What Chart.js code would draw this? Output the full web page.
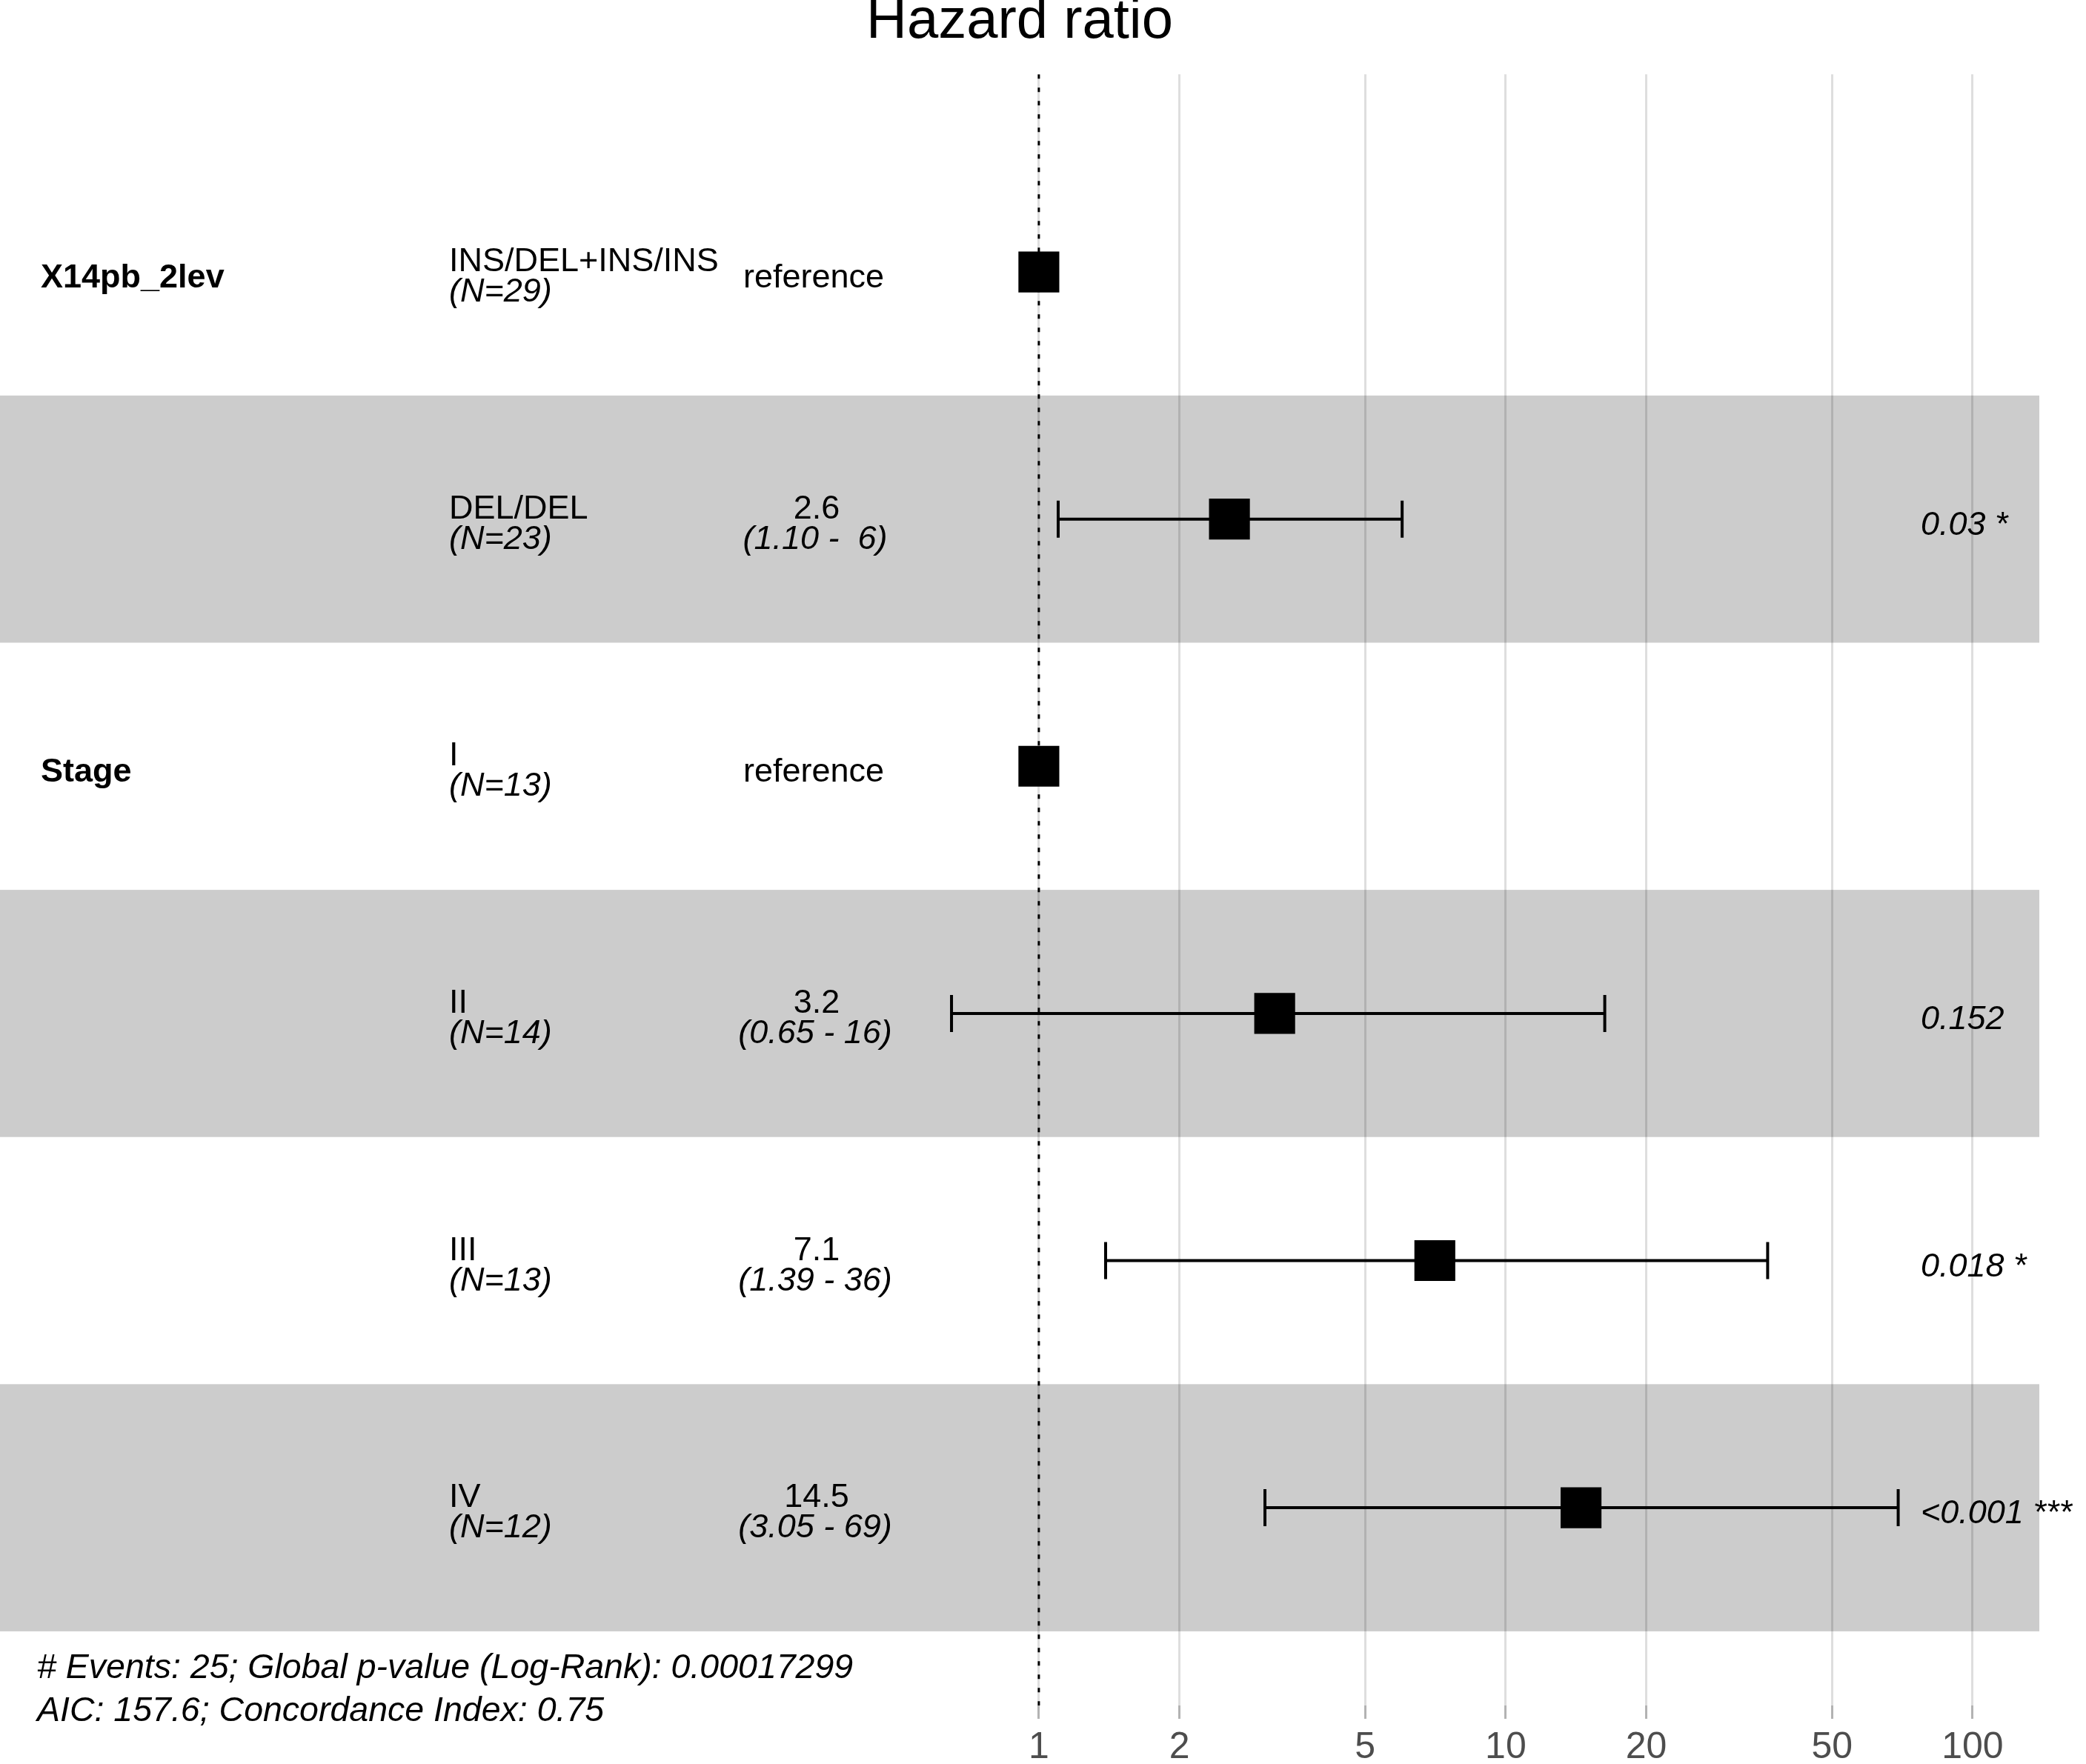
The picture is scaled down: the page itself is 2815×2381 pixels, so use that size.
<!DOCTYPE html>
<html>
<head>
<meta charset="utf-8">
<title>Hazard ratio</title>
<script src="https://cdn.jsdelivr.net/npm/chart.js@4.4.1/dist/chart.umd.min.js"></script>
<style>
  html, body { margin: 0; padding: 0; background: #fff; overflow: hidden; }
  #wrap { width: 2815px; height: 2381px; }
</style>
</head>
<body>
<div id="wrap"><canvas id="forest" width="2815" height="2381"></canvas></div>
<script>
// one entry per row of the forest plot, top to bottom
const variables = ["X14pb_2lev", "", "Stage", "", "", ""];
const levels = ["INS/DEL+INS/INS", "DEL/DEL", "I", "II", "III", "IV"];
const counts = [29, 23, 13, 14, 13, 12];
const hazard = [1, 2.56, 1, 3.2, 7.05, 14.5];
const ciLow = [null, 1.10, null, 0.65, 1.39, 3.05];
const ciHigh = [null, 6.0, null, 16.3, 36.4, 69.3];
const estLabels = ["reference", "2.6", "reference", "3.2", "7.1", "14.5"];
const ciLabels = ["", "(1.10 -  6)", "", "(0.65 - 16)", "(1.39 - 36)", "(3.05 - 69)"];
const pLabels = ["", "0.03 *", "", "0.152", "0.018 *", "<0.001 ***"];
const xTicks = [1, 2, 5, 10, 20, 50, 100];
const footer = [
    "# Events: 25; Global p-value (Log-Rank): 0.00017299",
    "AIC: 157.6; Concordance Index: 0.75"
];

const FONT = '"Liberation Sans", Arial, sans-serif';
const Y_MIN = 0.2, Y_MAX = 6.8;

const rows = levels.map((_, i) => i + 1);

// white page + grey bands on every other row, under the grid
const bandsPlugin = {
    id: "bands",
    beforeDraw(chart) {
        const { ctx, chartArea, scales } = chart;
        ctx.save();
        ctx.fillStyle = "#ffffff";
        ctx.fillRect(0, 0, chart.width, chart.height);
        ctx.fillStyle = "#cccccc";
        rows.forEach(r => {
            if (r % 2 !== 0) return;
            const y0 = scales.y.getPixelForValue(r - 0.5);
            const y1 = scales.y.getPixelForValue(r + 0.5);
            ctx.fillRect(chartArea.left, y0, chartArea.right - chartArea.left, y1 - y0);
        });
        ctx.restore();
    }
};

// the table columns and the footer notes
const tablePlugin = {
    id: "table",
    afterDatasetsDraw(chart) {
        const { ctx, scales } = chart;
        ctx.save();
        ctx.fillStyle = "#000000";
        ctx.textBaseline = "alphabetic";
        rows.forEach((r, i) => {
            const cy = scales.y.getPixelForValue(r);

            if (variables[i]) {
                ctx.font = "bold 45px " + FONT;
                ctx.textAlign = "left";
                ctx.fillText(variables[i], 55, cy + 21);
            }

            ctx.textAlign = "left";
            ctx.font = "45px " + FONT;
            ctx.fillText(levels[i], 606, cy - 1);
            ctx.font = "italic 45px " + FONT;
            ctx.fillText("(N=" + counts[i] + ")", 606, cy + 40);

            ctx.textAlign = "center";
            if (ciLabels[i]) {
                ctx.font = "45px " + FONT;
                ctx.fillText(estLabels[i], 1102, cy - 1);
                ctx.font = "italic 45px " + FONT;
                ctx.fillText(ciLabels[i], 1100, cy + 40);
            } else {
                ctx.font = "45px " + FONT;
                ctx.fillText(estLabels[i], 1098, cy + 21);
            }

            if (pLabels[i]) {
                ctx.textAlign = "left";
                ctx.font = "italic 45px " + FONT;
                ctx.fillText(pLabels[i], 2592, cy + 21);
            }
        });

        ctx.textAlign = "left";
        ctx.font = "italic 46.5px " + FONT;
        ctx.fillText(footer[0], 50, 2265);
        ctx.fillText(footer[1], 50, 2323);
        ctx.restore();
    }
};

const datasets = [];

datasets.push({
    label: "HR",
    data: rows.map((r, i) => ({ x: hazard[i], y: r })),
    pointStyle: "rect",
    pointRadius: 39,
    pointBackgroundColor: "#000000",
    pointBorderWidth: 0,
    showLine: false,
    order: 0
});

rows.forEach((r, i) => {
    if (ciLow[i] == null) return;
    datasets.push({
        label: "CI " + levels[i],
        data: [{ x: ciLow[i], y: r }, { x: ciHigh[i], y: r }],
        showLine: true,
        borderColor: "#000000",
        borderWidth: 4,
        pointStyle: "line",
        pointRotation: 90,
        pointRadius: 25,
        pointBorderWidth: 4,
        pointBorderColor: "#000000",
        order: 1
    });
});

datasets.push({
    label: "no effect",
    data: [{ x: 1, y: Y_MIN }, { x: 1, y: Y_MAX }],
    showLine: true,
    borderColor: "#000000",
    borderWidth: 3,
    borderDash: [6, 12],
    pointRadius: 0,
    order: 2
});

new Chart(document.getElementById("forest"), {
    type: "scatter",
    data: { datasets: datasets },
    plugins: [bandsPlugin, tablePlugin],
    options: {
        responsive: false,
        devicePixelRatio: 1,
        animation: false,
        events: [],
        layout: { autoPadding: false, padding: { left: 0, right: 63, top: 0, bottom: 0 } },
        plugins: {
            legend: { display: false },
            tooltip: { enabled: false },
            title: {
                display: true,
                text: "Hazard ratio",
                color: "#000000",
                font: { family: FONT, size: 76, weight: "normal" },
                padding: { top: -16, bottom: 25 }
            }
        },
        scales: {
            x: {
                type: "logarithmic",
                min: 0.005953,
                max: 139,
                border: { display: false },
                grid: {
                    color: "rgba(0,0,0,0.13)",
                    lineWidth: 3,
                    tickLength: 18,
                    tickColor: "#b3b3b3",
                    tickWidth: 3
                },
                ticks: {
                    color: "#4d4d4d",
                    font: { family: FONT, size: 50 },
                    padding: 9,
                    maxRotation: 0,
                    autoSkip: false,
                    callback: v => String(v)
                },
                afterBuildTicks: s => { s.ticks = xTicks.map(v => ({ value: v })); },
                afterFit: s => { s.height = 79; s.paddingLeft = 0; s.paddingRight = 0; }
            },
            y: {
                type: "linear",
                min: Y_MIN,
                max: Y_MAX,
                reverse: true,
                display: false,
                ticks: { display: false },
                grid: { display: false },
                afterFit: s => { s.width = 0; }
            }
        }
    }
});
</script>
</body>
</html>
